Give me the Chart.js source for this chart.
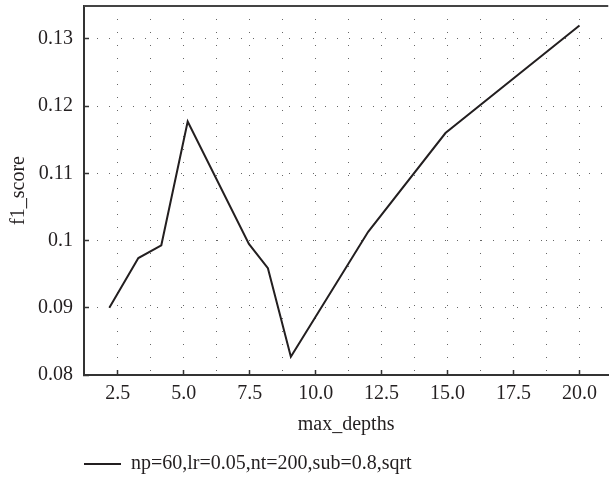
<!DOCTYPE html>
<html>
<head>
<meta charset="utf-8">
<script src="https://cdn.jsdelivr.net/npm/chart.js@4.4.1/dist/chart.umd.min.js"></script>
<style>
  html, body { margin: 0; padding: 0; background: #fff; }
  #wrap { width: 611px; height: 481px; }
</style>
</head>
<body>
<div id="wrap"><canvas id="depthChart" width="611" height="481"></canvas></div>
<script>
// max_depths vs f1_score
const maxDepths = [2.18, 3.28, 4.15, 5.15, 7.47, 8.19, 9.06, 11.99, 14.92, 20.0];
const f1Scores = [0.0900, 0.0974, 0.0993, 0.1177, 0.0995, 0.0959, 0.0827, 0.1013, 0.1160, 0.1320];
const seriesLabel = "np=60,lr=0.05,nt=200,sub=0.8,sqrt";
const xTitle = "max_depths";
const yTitle = "f1_score";

const points = maxDepths.map((d, i) => ({ x: d, y: f1Scores[i] }));

const serif = "'Liberation Serif', 'Times New Roman', serif";
const ink = "#231f20";
const fontSize = 20;

function isMajorX(v) {
    return Math.abs(v / 2.5 - Math.round(v / 2.5)) < 1e-6;
}

// top frame line (no right frame in the original)
const topFrame = {
    id: "topFrame",
    afterDraw(chart) {
        const a = chart.chartArea;
        const c = chart.ctx;
        c.save();
        c.strokeStyle = "#444";
        c.lineWidth = 2;
        c.beginPath();
        c.moveTo(a.left, a.top);
        c.lineTo(a.right, a.top);
        c.stroke();
        c.restore();
    }
};

const ctx = document.getElementById("depthChart").getContext("2d");

let chart = new Chart(ctx, {
    type: "scatter",
    data: {
        datasets: [{
            label: seriesLabel,
            data: points,
            showLine: true,
            borderColor: ink,
            backgroundColor: ink,
            borderWidth: 2,
            pointRadius: 0,
            tension: 0
        }]
    },
    options: {
        responsive: false,
        animation: false,
        layout: { padding: { left: 4, right: 0, top: 6, bottom: -3 } },
        plugins: {
            tooltip: { enabled: false },
            legend: {
                position: "bottom",
                align: "start",
                fullSize: false,
                labels: {
                    usePointStyle: true,
                    pointStyle: "line",
                    pointStyleWidth: 37,
                    padding: 0,
                    color: ink,
                    font: { family: serif, size: fontSize }
                }
            }
        },
        scales: {
            x: {
                type: "linear",
                min: 1.22,
                max: 21.09,
                border: { display: true, color: "#333", width: 2, dash: [1, 12] },
                grid: {
                    color: "#666",
                    lineWidth: 1,
                    drawTicks: true,
                    tickLength: -5,
                    tickBorderDash: [],
                    tickWidth: 1.5,
                    tickColor: (c) => (c.tick && isMajorX(c.tick.value)) ? "#333" : "rgba(0,0,0,0)"
                },
                ticks: {
                    stepSize: 1.25,
                    includeBounds: false,
                    autoSkip: false,
                    maxRotation: 0,
                    padding: 14,
                    color: ink,
                    font: { family: serif, size: fontSize, lineHeight: 1 },
                    callback: (v) => isMajorX(v) ? v.toFixed(1) : ""
                },
                title: {
                    display: true,
                    text: xTitle,
                    color: ink,
                    font: { family: serif, size: fontSize },
                    padding: { top: -5, bottom: 17 }
                }
            },
            y: {
                type: "linear",
                min: 0.08,
                max: 0.1349,
                border: { display: true, color: "#333", width: 2, dash: [1, 11] },
                grid: {
                    color: "#666",
                    lineWidth: 1,
                    drawTicks: true,
                    tickLength: -5,
                    tickBorderDash: [],
                    tickWidth: 1.5,
                    tickColor: "#333"
                },
                ticks: {
                    stepSize: 0.01,
                    includeBounds: false,
                    padding: 16,
                    color: ink,
                    font: { family: serif, size: fontSize },
                    callback: (v) => String(Number(v.toFixed(2)))
                },
                title: {
                    display: true,
                    text: yTitle,
                    color: ink,
                    font: { family: serif, size: fontSize },
                    padding: { top: 3, bottom: -9 }
                },
                // labels sit well inside the axis, so no extra room is needed above/below
                afterFit: (scale) => {
                    scale.paddingTop = 0;
                    scale.paddingBottom = 0;
                }
            }
        }
    },
    plugins: [topFrame]
});
</script>
</body>
</html>
